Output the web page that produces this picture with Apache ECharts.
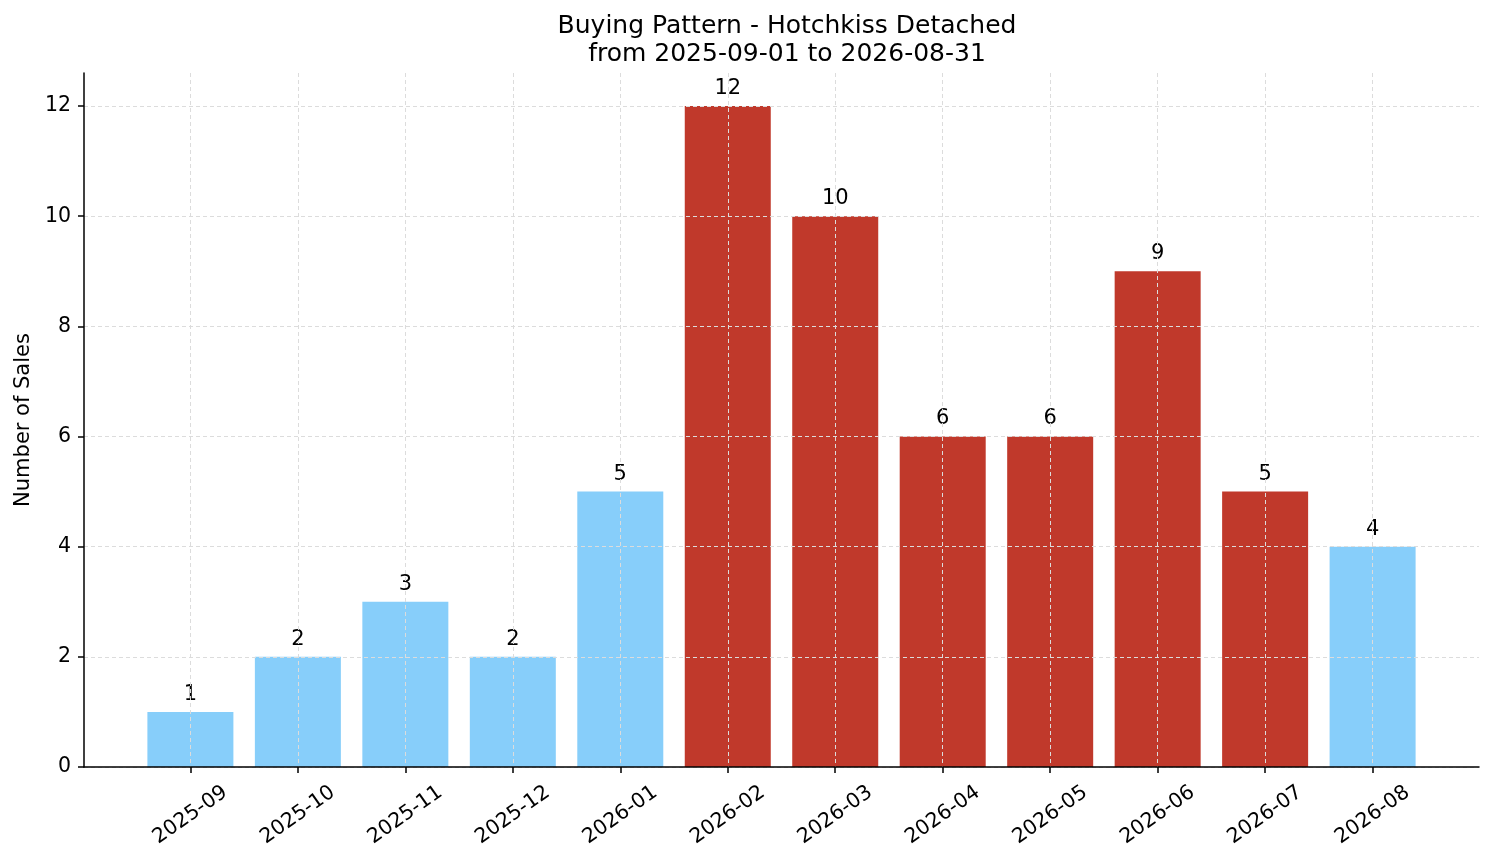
<!DOCTYPE html>
<html>
<head>
<meta charset="utf-8">
<script src="https://cdn.jsdelivr.net/npm/echarts@6/dist/echarts.min.js"></script>
<style>
  html, body { margin: 0; padding: 0; background: #fff; }
  #chart { width: 1494px; height: 863px; }
</style>
</head>
<body>
<div id="chart"></div>
<script>
// chart data
var months = ['2025-09', '2025-10', '2025-11', '2025-12', '2026-01', '2026-02',
  '2026-03', '2026-04', '2026-05', '2026-06', '2026-07', '2026-08'];
var sales = [1, 2, 3, 2, 5, 12, 10, 6, 6, 9, 5, 4];
var peak = [false, false, false, false, false, true, true, true, true, true, true, false];
var yTicks = [0, 2, 4, 6, 8, 10, 12];

var font = 'DejaVu Sans';
var blue = '#87CEFA';
var red = '#C0392B';

var chart = echarts.init(document.getElementById('chart'));

var option = {
  animation: false,
  title: {
    text: 'Buying Pattern - Hotchkiss Detached\nfrom 2025-09-01 to 2026-08-31',
    left: 782,
    top: 7,
    textAlign: 'center',
    textStyle: { fontFamily: font, fontSize: 25, fontWeight: 'normal', color: '#000', lineHeight: 28 }
  },
  grid: { left: 84, right: 15, top: 73, bottom: 96, outerBoundsMode: 'none', containLabel: false },
  xAxis: {
    type: 'value',
    min: -0.99,
    max: 11.99,
    z: 5,
    axisLine: { show: true, onZero: false, lineStyle: { color: '#000', width: 1.5 } },
    axisTick: { show: true, customValues: months.map(function (m, i) { return i; }), length: 6, lineStyle: { color: '#000', width: 1.5 } },
    axisLabel: {
      customValues: months.map(function (m, i) { return i; }),
      formatter: function (v) { return months[Math.round(v)] || ''; },
      rotate: 35,
      align: 'center',
      verticalAlign: 'middle',
      margin: 48,
      fontFamily: font, fontSize: 20.5, color: '#000'
    },
    splitLine: { show: true, lineStyle: { color: '#dcdcdc', type: [4, 3], width: 1 } }
  },
  yAxis: {
    type: 'value',
    min: 0,
    max: 12.6,
    z: 5,
    name: 'Number of Sales',
    nameLocation: 'middle',
    nameGap: 49,
    nameTextStyle: { fontFamily: font, fontSize: 21, color: '#000' },
    axisLine: { show: true, onZero: false, lineStyle: { color: '#000', width: 1.5 } },
    axisTick: { show: true, customValues: yTicks, length: 6, lineStyle: { color: '#000', width: 1.5 } },
    axisLabel: { customValues: yTicks, margin: 13, fontFamily: font, fontSize: 20.5, color: '#000' },
    splitLine: { show: true, lineStyle: { color: '#dcdcdc', type: [4, 3], width: 1 } }
  },
  series: [{
    type: 'bar',
    barWidth: 86,
    data: sales.map(function (v, i) {
      return { value: [i, v], itemStyle: { color: peak[i] ? red : blue } };
    }),
    label: {
      show: true,
      position: 'top',
      distance: 7,
      formatter: function (p) { return p.value[1]; },
      fontFamily: font, fontSize: 21, color: '#000'
    }
  }]
};

chart.setOption(option);
</script>
</body>
</html>
